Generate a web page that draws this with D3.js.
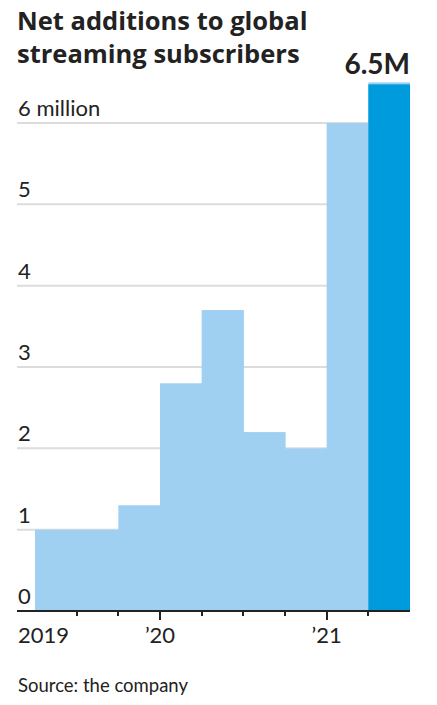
<!DOCTYPE html>
<html>
<head>
<meta charset="utf-8">
<script src="https://cdn.jsdelivr.net/npm/d3@7"></script>
<style>
  body { margin: 0; background: #fff; }
  svg text { fill: #222; }
  .title { font-family: "Open Sans", sans-serif; font-weight: 700; font-size: 25.5px; }
  .axis-label { font-family: Lato, sans-serif; font-size: 22px; }
  .source { font-family: Lato, sans-serif; font-size: 18.5px; }
  .big-label { font-family: Lato, sans-serif; font-weight: 700; font-size: 28px; }
</style>
</head>
<body>
<div id="chart"></div>
<script>
// quarterly net additions, millions
const quarters = ['2019 Q2', '2019 Q3', '2019 Q4', '2020 Q1', '2020 Q2', '2020 Q3', '2020 Q4', '2021 Q1', '2021 Q2'];
const netAdds = [1.0, 1.0, 1.3, 2.8, 3.7, 2.2, 2.0, 6.0, 6.5];
const yTicks = [0, 1, 2, 3, 4, 5, 6];
const yearQuarters = ['2019 Q2', '2020 Q1', '2021 Q1'];
const yearLabels = ['2019', '\u201920', '\u201921'];
const highlightLabel = '6.5M';

const width = 437, height = 705;
const left = 17, right = 410, barStart = 35;

const svg = d3.select('#chart').append('svg')
  .attr('width', width)
  .attr('height', height);

const x = d3.scaleBand().domain(quarters).range([barStart, right]).padding(0);
const y = d3.scaleLinear().domain([0, 6]).range([611, 123]);

svg.append('text').attr('class', 'title').attr('x', 17).attr('y', 30).text('Net additions to global');
svg.append('text').attr('class', 'title').attr('x', 17).attr('y', 63).text('streaming subscribers');

// gridlines
svg.append('g')
  .selectAll('line')
  .data(yTicks.filter(d => d > 0))
  .enter().append('line')
  .attr('x1', left)
  .attr('x2', right)
  .attr('y1', d => y(d))
  .attr('y2', d => y(d))
  .attr('stroke', '#dcdcdc')
  .attr('stroke-width', 2);

svg.append('g')
  .selectAll('text')
  .data(yTicks)
  .enter().append('text')
  .attr('class', 'axis-label')
  .attr('x', 18)
  .attr('y', d => y(d) - 7)
  .text(d => d === 6 ? '6 million' : d);

// bars (slightly widened so neighbours don't show a seam)
const last = quarters[quarters.length - 1];
svg.append('g')
  .selectAll('rect')
  .data(quarters)
  .enter().append('rect')
  .attr('x', d => x(d))
  .attr('width', (d, i) => i < quarters.length - 1 ? x.bandwidth() + 0.6 : x.bandwidth())
  .attr('y', (d, i) => y(netAdds[i]))
  .attr('height', (d, i) => y(0) - y(netAdds[i]))
  .attr('fill', '#9fd0f1');

svg.append('rect')
  .attr('x', x(last))
  .attr('width', x.bandwidth())
  .attr('y', y(netAdds[netAdds.length - 1]) + 2)
  .attr('height', y(0) - y(netAdds[netAdds.length - 1]) - 2)
  .attr('fill', '#009bdc');

svg.append('text')
  .attr('class', 'big-label')
  .attr('x', right)
  .attr('y', 74)
  .attr('text-anchor', 'end')
  .text(highlightLabel);

// x axis
svg.append('line')
  .attr('x1', left).attr('x2', right)
  .attr('y1', y(0)).attr('y2', y(0))
  .attr('stroke', '#222').attr('stroke-width', 2);

svg.append('g')
  .selectAll('line')
  .data(quarters.slice(1))
  .enter().append('line')
  .attr('x1', d => Math.round(x(d)))
  .attr('x2', d => Math.round(x(d)))
  .attr('y1', y(0))
  .attr('y2', d => d.endsWith('Q1') ? y(0) + 9 : y(0) + 5)
  .attr('stroke', '#222')
  .attr('stroke-width', 2);

svg.append('g')
  .selectAll('text')
  .data(yearQuarters)
  .enter().append('text')
  .attr('class', 'axis-label')
  .attr('x', (d, i) => i === 0 ? 18 : x(d))
  .attr('y', 643)
  .attr('text-anchor', (d, i) => i === 0 ? 'start' : 'middle')
  .text((d, i) => yearLabels[i]);

svg.append('text')
  .attr('class', 'source')
  .attr('x', 18)
  .attr('y', 692)
  .text('Source: the company');
</script>
</body>
</html>
